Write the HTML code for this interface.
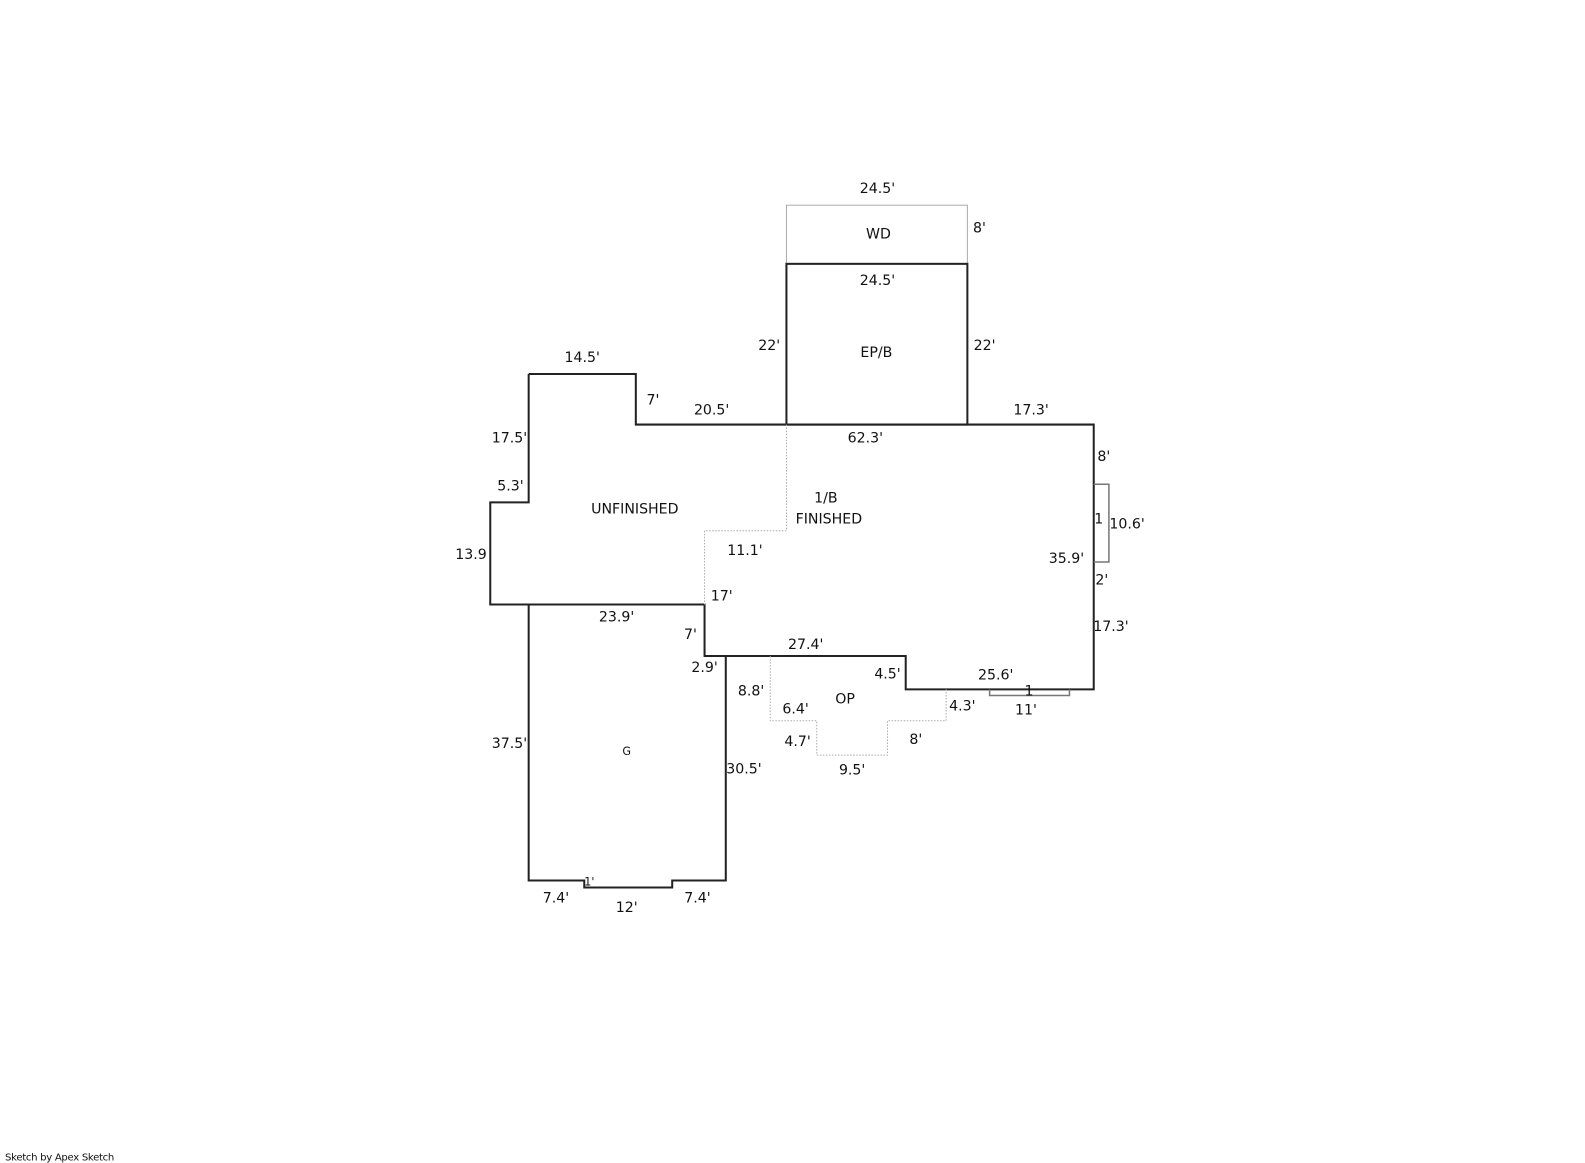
<!DOCTYPE html>
<html><head><meta charset="utf-8"><style>
html,body{margin:0;padding:0;background:#fff;width:1585px;height:1163px;overflow:hidden}
svg{display:block}
text{font-family:"DejaVu Sans","Liberation Sans",sans-serif;font-size:14px;fill:#111}
.s{fill:none;stroke:#222;stroke-width:2}
.d{fill:none;stroke:#aaa;stroke-width:1;stroke-dasharray:1.5 1.5}
.g{fill:none;stroke:#777;stroke-width:1.5}
</style></head><body>
<svg width="1585" height="1163" viewBox="0 0 1568 1150.5" xmlns="http://www.w3.org/2000/svg">
<rect x="778" y="203" width="179" height="58" fill="none" stroke="#aaa" stroke-width="1"/>
<rect x="778" y="261" width="179" height="159" class="s"/>
<polyline class="s" points="523,370 629,370 629,420 1082,420 1082,682 896,682 896,649 697,649 697,598 485,598 485,497 523,497 523,370"/>
<polyline class="d" points="778,420 778,525 697,525 697,598"/>
<polyline class="s" points="523,598 523,871 578,871 578,878 665,878 665,871 718,871 718,649"/>
<polyline class="d" points="762,649 762,713 808,713 808,747 878,747 878,713 936,713 936,682"/>
<polyline class="g" points="1082,479 1097,479 1097,556 1082,556"/>
<polyline class="g" points="979,682 979,688 1058,688 1058,682"/>
<g text-anchor="middle">
<text x="868" y="191">24.5'</text>
<text x="869" y="236">WD</text>
<text x="969" y="230">8'</text>
<text x="868" y="282">24.5'</text>
<text x="867" y="353">EP/B</text>
<text x="761" y="346">22'</text>
<text x="974" y="346">22'</text>
<text x="576" y="358">14.5'</text>
<text x="646" y="400">7'</text>
<text x="704" y="410">20.5'</text>
<text x="1020" y="410">17.3'</text>
<text x="856" y="438">62.3'</text>
<text x="504" y="438">17.5'</text>
<text x="1092" y="456">8'</text>
<text x="505" y="485">5.3'</text>
<text x="817" y="497">1/B</text>
<text x="820" y="518">FINISHED</text>
<text x="628" y="508">UNFINISHED</text>
<text x="1087" y="518">1</text>
<text x="1115" y="523">10.6'</text>
<text x="466" y="553">13.9</text>
<text x="737" y="549">11.1'</text>
<text x="1055" y="557">35.9'</text>
<text x="1090" y="578">2'</text>
<text x="714" y="594">17'</text>
<text x="610" y="615">23.9'</text>
<text x="1099" y="624">17.3'</text>
<text x="683" y="632">7'</text>
<text x="797" y="642">27.4'</text>
<text x="697" y="665">2.9'</text>
<text x="878" y="671">4.5'</text>
<text x="985" y="672">25.6'</text>
<text x="1018" y="688">1</text>
<text x="743" y="688">8.8'</text>
<text x="836" y="696">OP</text>
<text x="952" y="703">4.3'</text>
<text x="1015" y="707">11'</text>
<text x="787" y="706">6.4'</text>
<text x="789" y="738">4.7'</text>
<text x="906" y="736">8'</text>
<text x="504" y="740">37.5'</text>
<text x="620" y="747" style="font-size:11px">G</text>
<text x="736" y="765">30.5'</text>
<text x="843" y="766">9.5'</text>
<text x="583" y="876" style="font-size:11px">1'</text>
<text x="550" y="893">7.4'</text>
<text x="690" y="893">7.4'</text>
<text x="620" y="902">12'</text>
</g>
<text x="5" y="1148" style="font-size:10px;letter-spacing:-0.3px">Sketch by Apex Sketch</text>
</svg>
</body></html>
